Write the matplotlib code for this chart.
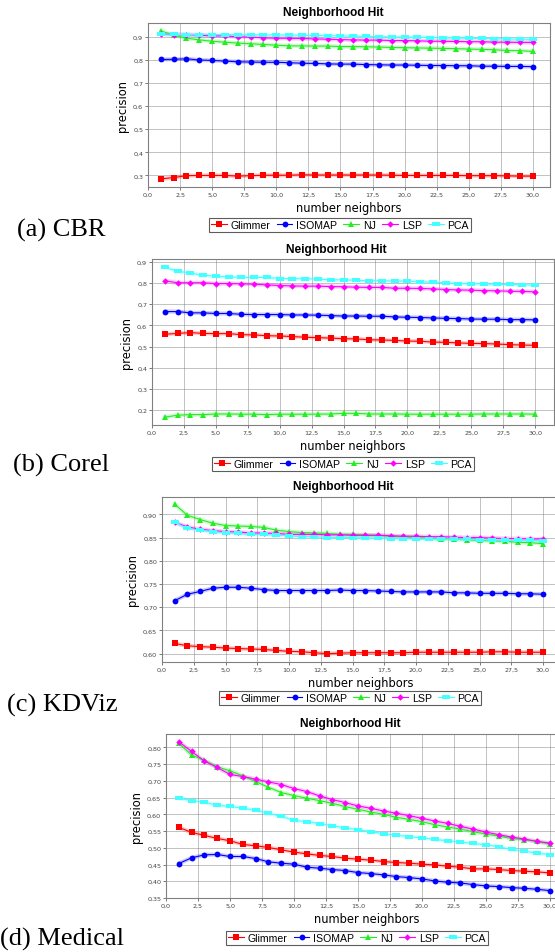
import numpy as np
import matplotlib
matplotlib.use('Agg')
import matplotlib.pyplot as plt
from matplotlib.path import Path
from matplotlib.ticker import FuncFormatter, MultipleLocator

W, H = 555, 953

neighbors = list(range(1, 31))
series_names = ['Glimmer', 'ISOMAP', 'NJ', 'LSP', 'PCA']

# (a) CBR
cbr_glimmer = [0.285, 0.291, 0.299, 0.300, 0.300, 0.300, 0.297, 0.299, 0.301, 0.301,
               0.301, 0.303, 0.302, 0.302, 0.302, 0.302, 0.302, 0.302, 0.301, 0.300,
               0.300, 0.300, 0.300, 0.300, 0.299, 0.299, 0.299, 0.298, 0.297, 0.297]
cbr_isomap = [0.802, 0.803, 0.805, 0.800, 0.798, 0.795, 0.792, 0.791, 0.790, 0.790,
              0.788, 0.786, 0.785, 0.783, 0.782, 0.782, 0.780, 0.779, 0.778, 0.778,
              0.777, 0.776, 0.776, 0.775, 0.775, 0.773, 0.773, 0.772, 0.772, 0.771]
cbr_nj = [0.926, 0.907, 0.894, 0.887, 0.881, 0.877, 0.873, 0.870, 0.867, 0.864,
          0.861, 0.861, 0.860, 0.860, 0.858, 0.858, 0.857, 0.856, 0.854, 0.853,
          0.852, 0.851, 0.850, 0.849, 0.847, 0.846, 0.844, 0.841, 0.840, 0.837]
cbr_lsp = [0.912, 0.910, 0.910, 0.907, 0.904, 0.904, 0.900, 0.899, 0.896, 0.894,
           0.894, 0.893, 0.891, 0.890, 0.888, 0.887, 0.886, 0.886, 0.884, 0.884,
           0.883, 0.881, 0.881, 0.880, 0.879, 0.879, 0.877, 0.877, 0.876, 0.876]
cbr_pca = [0.912, 0.911, 0.910, 0.910, 0.910, 0.910, 0.909, 0.909, 0.909, 0.908,
           0.908, 0.907, 0.906, 0.905, 0.904, 0.903, 0.902, 0.901, 0.900, 0.899,
           0.898, 0.897, 0.896, 0.895, 0.894, 0.893, 0.892, 0.891, 0.890, 0.889]

# (b) Corel
corel_glimmer = [0.558, 0.562, 0.566, 0.562, 0.561, 0.561, 0.556, 0.555, 0.551, 0.550,
                 0.547, 0.544, 0.542, 0.540, 0.537, 0.536, 0.532, 0.531, 0.529, 0.526,
                 0.525, 0.521, 0.520, 0.517, 0.515, 0.514, 0.512, 0.509, 0.507, 0.506]
corel_isomap = [0.665, 0.665, 0.659, 0.659, 0.656, 0.656, 0.652, 0.651, 0.651, 0.651,
                0.649, 0.649, 0.648, 0.646, 0.644, 0.644, 0.643, 0.643, 0.640, 0.638,
                0.637, 0.635, 0.633, 0.632, 0.630, 0.629, 0.629, 0.627, 0.627, 0.626]
corel_nj = [0.167, 0.176, 0.179, 0.179, 0.182, 0.182, 0.181, 0.181, 0.179, 0.181,
            0.181, 0.181, 0.181, 0.182, 0.185, 0.185, 0.182, 0.182, 0.182, 0.181,
            0.181, 0.181, 0.181, 0.181, 0.181, 0.182, 0.182, 0.182, 0.182, 0.181]
corel_lsp = [0.810, 0.801, 0.801, 0.801, 0.797, 0.797, 0.796, 0.794, 0.791, 0.788,
             0.786, 0.785, 0.785, 0.783, 0.782, 0.780, 0.779, 0.779, 0.775, 0.775,
             0.774, 0.772, 0.769, 0.767, 0.766, 0.764, 0.763, 0.761, 0.760, 0.758]
corel_pca = [0.873, 0.856, 0.846, 0.837, 0.831, 0.829, 0.826, 0.826, 0.826, 0.821,
             0.820, 0.820, 0.818, 0.815, 0.815, 0.812, 0.810, 0.810, 0.809, 0.809,
             0.805, 0.804, 0.801, 0.797, 0.797, 0.796, 0.793, 0.793, 0.791, 0.790]

# (c) KDViz
kdviz_glimmer = [0.622, 0.617, 0.615, 0.614, 0.612, 0.611, 0.610, 0.609, 0.607, 0.605,
                 0.604, 0.602, 0.600, 0.601, 0.602, 0.602, 0.602, 0.602, 0.602, 0.603,
                 0.603, 0.603, 0.603, 0.603, 0.603, 0.604, 0.604, 0.603, 0.603, 0.603]
kdviz_isomap = [0.714, 0.728, 0.734, 0.741, 0.743, 0.743, 0.741, 0.738, 0.736, 0.736,
                0.736, 0.736, 0.736, 0.737, 0.736, 0.736, 0.735, 0.734, 0.733, 0.733,
                0.733, 0.733, 0.731, 0.731, 0.730, 0.730, 0.730, 0.729, 0.729, 0.728]
kdviz_nj = [0.922, 0.898, 0.889, 0.881, 0.876, 0.875, 0.874, 0.872, 0.866, 0.863,
            0.861, 0.860, 0.859, 0.857, 0.857, 0.856, 0.855, 0.853, 0.852, 0.850,
            0.849, 0.848, 0.847, 0.845, 0.844, 0.843, 0.842, 0.840, 0.839, 0.837]
kdviz_lsp = [0.883, 0.873, 0.868, 0.865, 0.863, 0.862, 0.860, 0.860, 0.859, 0.857,
             0.857, 0.857, 0.856, 0.856, 0.855, 0.855, 0.855, 0.854, 0.853, 0.853,
             0.852, 0.852, 0.851, 0.850, 0.850, 0.849, 0.848, 0.848, 0.847, 0.847]
kdviz_pca = [0.883, 0.870, 0.866, 0.863, 0.860, 0.859, 0.857, 0.857, 0.855, 0.854,
             0.852, 0.852, 0.850, 0.850, 0.850, 0.849, 0.849, 0.848, 0.848, 0.847,
             0.847, 0.847, 0.847, 0.846, 0.845, 0.845, 0.844, 0.844, 0.844, 0.843]

# (d) Medical
medical_glimmer = [0.561, 0.546, 0.537, 0.528, 0.521, 0.510, 0.506, 0.501, 0.494, 0.487,
                   0.482, 0.477, 0.474, 0.469, 0.466, 0.463, 0.459, 0.456, 0.454, 0.451,
                   0.449, 0.445, 0.442, 0.437, 0.437, 0.435, 0.432, 0.430, 0.428, 0.425]
medical_isomap = [0.453, 0.470, 0.479, 0.480, 0.474, 0.474, 0.468, 0.458, 0.454, 0.451,
                  0.442, 0.439, 0.435, 0.432, 0.426, 0.423, 0.419, 0.414, 0.411, 0.407,
                  0.401, 0.397, 0.395, 0.390, 0.386, 0.384, 0.381, 0.379, 0.376, 0.372]
medical_nj = [0.812, 0.777, 0.761, 0.742, 0.730, 0.715, 0.698, 0.681, 0.665, 0.656,
              0.648, 0.641, 0.633, 0.623, 0.615, 0.607, 0.600, 0.591, 0.585, 0.578,
              0.569, 0.562, 0.556, 0.548, 0.541, 0.535, 0.528, 0.524, 0.519, 0.511]
medical_lsp = [0.817, 0.788, 0.759, 0.740, 0.719, 0.713, 0.705, 0.697, 0.689, 0.677,
               0.668, 0.655, 0.644, 0.635, 0.625, 0.618, 0.610, 0.603, 0.596, 0.588,
               0.580, 0.573, 0.564, 0.556, 0.547, 0.539, 0.532, 0.526, 0.519, 0.514]
medical_pca = [0.648, 0.641, 0.636, 0.627, 0.624, 0.618, 0.613, 0.603, 0.594, 0.582,
               0.578, 0.572, 0.566, 0.559, 0.554, 0.548, 0.542, 0.538, 0.533, 0.530,
               0.525, 0.521, 0.517, 0.513, 0.509, 0.503, 0.495, 0.490, 0.484, 0.479]

panels = [
    ('(a) CBR', [cbr_glimmer, cbr_isomap, cbr_nj, cbr_lsp, cbr_pca], (0.25, 0.96), 0.1, 1),
    ('(b) Corel', [corel_glimmer, corel_isomap, corel_nj, corel_lsp, corel_pca], (0.13, 0.913), 0.1, 1),
    ('(c) KDViz', [kdviz_glimmer, kdviz_isomap, kdviz_nj, kdviz_lsp, kdviz_pca], (0.582, 0.9375), 0.05, 2),
    ('(d) Medical', [medical_glimmer, medical_isomap, medical_nj, medical_lsp, medical_pca], (0.35, 0.84), 0.05, 2),
]

# pixel layout: left, top, bottom, xmax, px per unit, title pos, legend center, caption pos
layout = [
    dict(left=148, top=24, bottom=188, xmax=31.3, ppu=12.83, tx=333, ty=13, lx=340, ly=226, cx=17, cy=230),
    dict(left=152, top=260, bottom=426, xmax=31.5, ppu=12.77, tx=336, ty=250, lx=343, ly=465, cx=13, cy=465),
    dict(left=162, top=498, bottom=663, xmax=31.3, ppu=12.70, tx=343, ty=487, lx=350, ly=699, cx=7, cy=705),
    dict(left=166, top=735, bottom=899, xmax=31.3, ppu=12.80, tx=350, ty=724, lx=357, ly=939, cx=0, cy=939),
]

colors = ['#ff0000', '#0000ff', '#22ee22', '#ff00ff', '#44ffff']
hrect = Path([(-1, -0.4), (1, -0.4), (1, 0.4), (-1, 0.4), (-1, -0.4)])
markers = ['s', 'o', '^', 'D', hrect]
msizes = [4, 4.2, 4.3, 3.3, 5.5]

fig = plt.figure(figsize=(W / 100, H / 100), dpi=100)

for (caption, data, ylim, ystep, dec), L in zip(panels, layout):
    width = L['xmax'] * L['ppu']
    ax = fig.add_axes([L['left'] / W, 1 - L['bottom'] / H,
                       width / W, (L['bottom'] - L['top']) / H])
    handles = []
    for vals, c, m, ms, name in zip(data, colors, markers, msizes, series_names):
        ax.plot(neighbors, vals, color=c, lw=3, alpha=0.2, solid_capstyle='round', zorder=2)
        h, = ax.plot(neighbors, vals, color=c, lw=0.8, marker=m, markersize=ms,
                     markeredgewidth=0, label=name, zorder=3)
        handles.append(h)
    ax.set_xlim(0, L['xmax'])
    ax.set_ylim(*ylim)
    ax.xaxis.set_major_locator(MultipleLocator(2.5))
    ax.yaxis.set_major_locator(MultipleLocator(ystep))
    ax.xaxis.set_major_formatter(FuncFormatter(lambda v, p: ('%.1f' % v).replace('.', ',')))
    ax.yaxis.set_major_formatter(FuncFormatter(lambda v, p, d=dec: ('%.*f' % (d, v)).replace('.', ',')))
    ax.grid(True, color='#707070', linestyle=(0, (1.2, 1.2)), linewidth=0.6)
    ax.set_axisbelow(True)
    for s in ax.spines.values():
        s.set_color('#808080')
        s.set_linewidth(0.8)
    ax.tick_params(labelsize=4.6, colors='#444444', length=2, width=0.5, pad=1.5)
    ax.set_xlabel('number neighbors', fontsize=8.3, labelpad=3)
    ax.set_ylabel('precision', fontsize=8.3, labelpad=3)

    fig.text(L['tx'] / W, 1 - L['ty'] / H, 'Neighborhood Hit', ha='center', va='center',
             fontsize=8.6, fontweight='bold', family='Liberation Sans')
    fig.text(L['cx'] / W, 1 - L['cy'] / H, caption, ha='left', va='center',
             fontsize=19, family='Liberation Serif')
    leg = fig.legend(handles=handles, loc='center', bbox_to_anchor=(L['lx'] / W, 1 - L['ly'] / H),
                     ncol=5, frameon=True, fancybox=False, edgecolor='#333333',
                     handlelength=1.5, handletextpad=0.35, columnspacing=0.6, borderpad=0.2,
                     borderaxespad=0, prop={'family': 'Liberation Sans', 'size': 7.6})
    leg.get_frame().set_linewidth(0.8)

fig.savefig('out.png', dpi=100)
